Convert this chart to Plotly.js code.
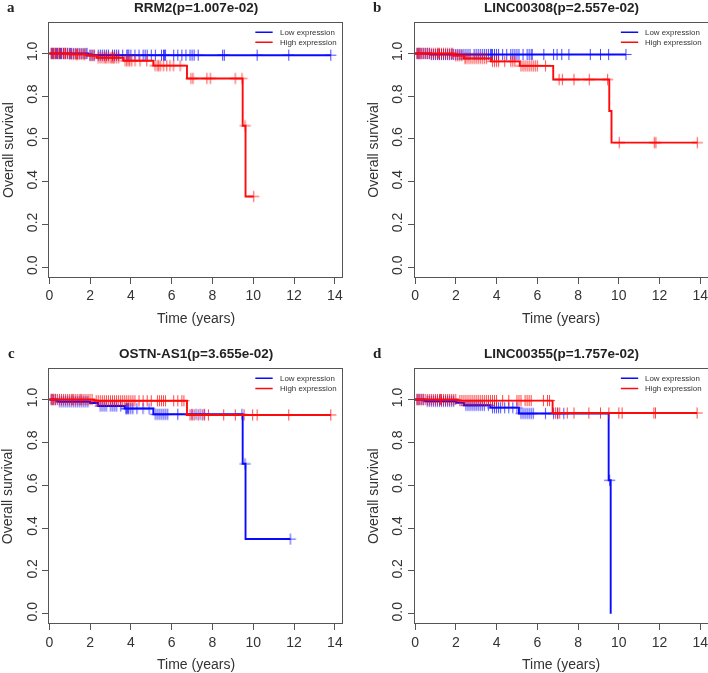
<!DOCTYPE html>
<html>
<head>
<meta charset="utf-8">
<script src="https://cdn.plot.ly/plotly-3.0.1.min.js"></script>
<style>
  body { margin: 0; background: #fff; }
  #chart { width: 708px; height: 673px; }
</style>
</head>
<body>
<div id="chart"></div>
<script>
// panel titles
var panelLetters = ["a", "b", "c", "d"];
var panelTitles = ["RRM2(p=1.007e-02)", "LINC00308(p=2.557e-02)", "OSTN-AS1(p=3.655e-02)", "LINC00355(p=1.757e-02)"];
var legendNames = ["Low expression", "High expression"];

// a - RRM2
var aLowTime = [0, 1.9, 13.8];
var aLowSurv = [1, 0.992, 0.992];
var aLowCens = [0.1,0.15,0.2,0.3,0.35,0.4,0.5,0.55,0.6,0.7,0.8,0.9,1.0,1.05,1.1,1.2,1.3,1.4,1.5,1.6,1.7,1.8,1.85,
  2.0,2.1,2.2,2.4,2.5,2.6,2.7,2.8,2.9,3.1,3.2,3.3,3.4,3.6,3.8,3.85,3.9,4.0,4.2,4.4,4.6,4.7,4.8,5.0,5.2,5.5,5.6,5.65,5.7,
  6.1,6.3,6.5,6.7,6.9,7.0,7.1,7.3,8.5,8.58,10.19,11.74,13.8];
var aHighTime = [0, 1.0, 1.84, 2.33, 3.64, 5.1, 6.75, 9.48, 9.62, 10.02];
var aHighSurv = [1, 0.996, 0.99, 0.98, 0.966, 0.943, 0.883, 0.662, 0.331, 0.331];
var aHighCens = [0.1,0.15,0.2,0.25,0.3,0.4,0.45,0.5,0.6,0.7,0.75,0.8,0.9,1.0,1.1,1.2,1.3,1.35,1.4,1.5,1.6,1.7,1.75,
  2.0,2.1,2.2,2.4,2.5,2.6,2.7,2.75,2.8,2.9,3.0,3.05,3.1,3.15,3.2,3.3,3.4,
  3.72,3.8,3.88,3.95,4.05,4.21,4.45,4.78,5.19,5.3,5.36,5.45,5.6,5.76,5.92,6.09,6.42,
  6.95,7.05,7.73,7.9,9.12,9.45,9.6,10.02];

// b - LINC00308
var bLowTime = [0, 0.75, 10.35];
var bLowSurv = [1, 0.995, 0.995];
var bLowCens = [0.1,0.15,0.2,0.3,0.4,0.5,0.6,0.7,0.8,0.9,1.0,1.1,1.2,1.3,1.4,1.5,1.6,1.7,1.8,1.9,2.0,
  2.1,2.2,2.3,2.4,2.5,2.6,2.7,2.9,3.0,3.1,3.2,3.3,3.4,3.5,3.6,3.7,3.75,3.8,3.9,4.0,4.1,4.3,4.5,4.7,4.8,4.9,
  5.0,5.1,5.3,5.5,5.6,5.7,5.75,6.32,6.8,6.97,7.2,7.55,8.6,9.1,9.5,10.35];
var bHighTime = [0, 1.9, 2.4, 3.72, 5.14, 6.78, 9.53, 9.64, 13.85];
var bHighSurv = [1, 0.99, 0.977, 0.963, 0.942, 0.878, 0.731, 0.583, 0.583];
var bHighCens = [0.1,0.15,0.2,0.25,0.3,0.4,0.5,0.6,0.7,0.8,0.9,1.0,1.1,1.15,1.2,1.3,1.4,1.5,1.6,1.7,1.8,1.85,
  2.0,2.1,2.2,2.3,2.45,2.5,2.6,2.7,2.8,2.9,3.0,3.1,3.2,3.3,3.4,3.5,
  3.8,3.9,4.0,4.1,4.4,4.7,4.8,4.9,5.2,5.3,5.4,5.5,5.6,5.7,5.8,5.9,6.0,6.4,
  7.07,7.23,7.8,8.55,9.45,10.02,11.74,11.82,13.85];

// c - OSTN-AS1
var cLowTime = [0, 0.4, 2.0, 2.4, 3.7, 5.1, 9.48, 9.62, 11.82];
var cLowSurv = [1, 0.99, 0.984, 0.97, 0.958, 0.931, 0.70, 0.349, 0.349];
var cLowCens = [0.1,0.2,0.3,0.5,0.6,0.7,0.8,0.9,1.0,1.1,1.2,1.3,1.4,1.5,1.6,1.7,1.8,1.9,
  2.5,2.6,2.7,2.8,3.0,3.1,3.2,3.3,3.5,3.75,3.8,3.85,3.9,4.0,4.1,4.3,4.6,4.9,
  5.2,5.3,5.4,5.5,5.6,5.7,5.8,6.3,7.0,7.2,7.4,7.6,9.45,9.6,11.82];
var cHighTime = [0, 2.2, 6.75, 13.8];
var cHighSurv = [1, 0.994, 0.928, 0.928];
var cHighCens = [0.1,0.15,0.2,0.3,0.4,0.5,0.6,0.7,0.8,0.9,1.0,1.1,1.15,1.2,1.3,1.4,1.5,1.55,1.6,1.7,1.8,1.9,2.0,2.1,
  2.3,2.4,2.5,2.6,2.7,2.8,2.9,3.0,3.1,3.2,3.3,3.4,3.5,3.6,3.7,3.8,3.9,4.0,4.1,4.2,4.4,4.6,4.8,5.0,
  5.3,5.4,5.5,5.6,5.7,6.1,6.3,6.5,6.6,6.9,7.0,7.1,7.3,7.5,7.6,7.8,8.55,9.12,9.55,9.97,10.19,11.74,13.8];

// d - LINC00355
var dLowTime = [0, 0.5, 2.0, 2.4, 3.7, 5.1, 9.5, 9.6];
var dLowSurv = [1, 0.992, 0.985, 0.973, 0.962, 0.935, 0.623, 0];
var dLowCens = [0.1,0.2,0.3,0.4,0.6,0.7,0.8,0.9,1.0,1.1,1.2,1.3,1.4,1.5,1.6,1.7,1.8,1.9,
  2.5,2.6,2.7,2.8,2.9,3.0,3.1,3.2,3.3,3.4,3.6,3.8,3.9,4.0,4.1,4.2,4.4,4.6,4.8,5.0,
  5.2,5.3,5.4,5.5,5.6,5.7,5.8,6.4,6.8,7.0,7.3,9.55];
var dHighTime = [0, 2.1, 6.75, 13.84];
var dHighSurv = [1, 0.995, 0.937, 0.937];
var dHighCens = [0.1,0.15,0.2,0.3,0.4,0.5,0.6,0.7,0.8,0.9,1.0,1.1,1.2,1.25,1.3,1.4,1.5,1.6,1.7,1.8,1.9,2.0,
  2.2,2.3,2.4,2.5,2.6,2.7,2.8,2.9,3.0,3.1,3.2,3.3,3.4,3.5,3.6,3.7,3.8,3.9,4.0,4.3,4.6,5.0,5.1,5.2,
  5.4,5.5,5.6,5.7,6.3,6.5,6.6,6.9,7.0,7.1,7.47,7.8,8.53,9.1,9.51,10.0,10.16,11.72,11.8,13.84];

var panels = [
  {low: [aLowTime, aLowSurv, aLowCens], high: [aHighTime, aHighSurv, aHighCens]},
  {low: [bLowTime, bLowSurv, bLowCens], high: [bHighTime, bHighSurv, bHighCens]},
  {low: [cLowTime, cLowSurv, cLowCens], high: [cHighTime, cHighSurv, cHighCens]},
  {low: [dLowTime, dLowSurv, dLowCens], high: [dHighTime, dHighSurv, dHighCens]}
];

var blue = "#0a0aff";
var red = "#ff0a0a";
var font = "Liberation Sans, Arial, sans-serif";

// survival value at time t from the step curve
function survAt(times, surv, t) {
  var s = surv[0];
  for (var k = 0; k < times.length; k++) {
    if (times[k] <= t) s = surv[k];
  }
  return s;
}

var xDomains = [[0.0696, 0.4831], [0.5862, 0.9993], [0.0696, 0.4831], [0.5862, 0.9993]];
var yDomains = [[0.5889, 0.9663], [0.5889, 0.9663], [0.0739, 0.4522], [0.0739, 0.4522]];

var data = [];
var layout = {
  width: 708, height: 673,
  margin: {l: 0, r: 0, t: 0, b: 0},
  paper_bgcolor: "#fff", plot_bgcolor: "#fff",
  showlegend: false,
  annotations: [], shapes: []
};

panels.forEach(function (p, i) {
  var n = i === 0 ? "" : String(i + 1);
  var xa = "x" + n, ya = "y" + n;
  [[p.low, blue], [p.high, red]].forEach(function (s) {
    var t = s[0][0], v = s[0][1], c = s[0][2];
    data.push({x: t, y: v, xaxis: xa, yaxis: ya, mode: "lines",
      line: {color: s[1], width: 1.9, shape: "hv"}, hoverinfo: "skip"});
    data.push({x: c, y: c.map(function (tt) { return survAt(t, v, tt); }),
      xaxis: xa, yaxis: ya, mode: "markers", opacity: 0.75,
      marker: {symbol: "cross-thin-open", size: 8, color: s[1], line: {color: s[1], width: 1}},
      hoverinfo: "skip"});
  });

  var axBase = {
    showgrid: false, zeroline: false, showline: true, mirror: true,
    linecolor: "#555", linewidth: 1, ticks: "outside", ticklen: 6,
    tickcolor: "#555", tickfont: {family: font, size: 14, color: "#333"},
    ticklabeloverflow: "allow", automargin: false
  };
  layout["xaxis" + n] = Object.assign({}, axBase, {
    domain: xDomains[i], range: [0, 14.35], tickvals: [0, 2, 4, 6, 8, 10, 12, 14],
    anchor: ya
  });
  layout["yaxis" + n] = Object.assign({}, axBase, {
    domain: yDomains[i], range: [-0.044, 1.144], tickvals: [0, 0.2, 0.4, 0.6, 0.8, 1.0],
    tickformat: ".1f", tickangle: -90, anchor: xa
  });

  var xd = xa + " domain", yd = ya + " domain";
  layout.annotations.push(
    {xref: xd, yref: yd, x: 0.5, y: 1, yshift: 15, showarrow: false, xanchor: "center", yanchor: "middle",
      text: "<b>" + panelTitles[i] + "</b>", font: {family: font, size: 13.5, color: "#222"}},
    {xref: xd, yref: yd, x: 0, y: 1, xshift: -38, yshift: 16, showarrow: false, xanchor: "center", yanchor: "middle",
      text: "<b>" + panelLetters[i] + "</b>", font: {family: "Liberation Serif, Times New Roman, serif", size: 15, color: "#222"}},
    {xref: xd, yref: yd, x: 0.5, y: 0, yshift: -41, showarrow: false, xanchor: "center", yanchor: "middle",
      text: "Time (years)", font: {family: font, size: 14, color: "#333"}},
    {xref: xd, yref: yd, x: 0, y: 0.5, xshift: -42, showarrow: false, xanchor: "center", yanchor: "middle",
      textangle: -90, text: "Overall survival", font: {family: font, size: 14, color: "#333"}}
  );

  // legend, top right
  [[legendNames[0], blue, 1.099], [legendNames[1], red, 1.052]].forEach(function (l) {
    layout.shapes.push({type: "line", xref: xa, yref: ya, x0: 10.1, x1: 10.95, y0: l[2], y1: l[2],
      line: {color: l[1], width: 1.5}});
    layout.annotations.push({xref: xa, yref: ya, x: 11.2, y: l[2], showarrow: false,
      xanchor: "left", yanchor: "middle", text: l[0], font: {family: font, size: 7.9, color: "#333"}});
  });
});

Plotly.newPlot("chart", data, layout, {displayModeBar: false, staticPlot: true});
</script>
</body>
</html>
